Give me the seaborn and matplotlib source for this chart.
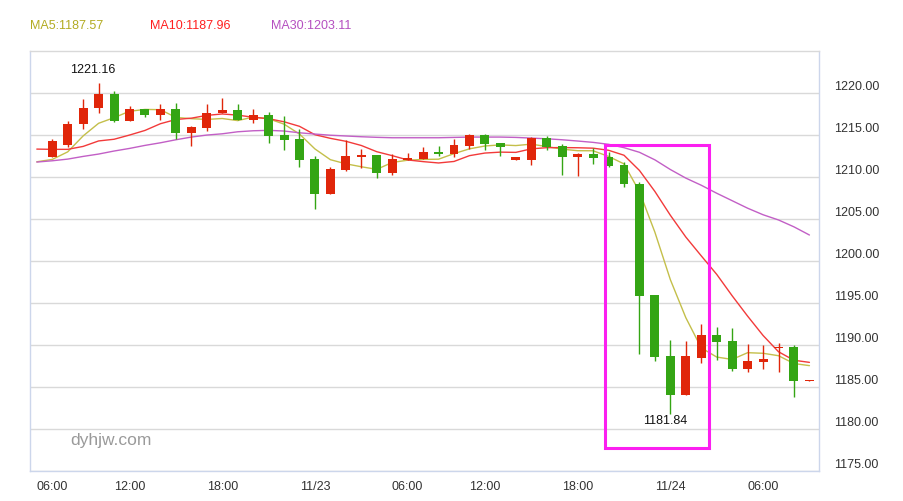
import numpy as np
import pandas as pd
import matplotlib
matplotlib.use("Agg")
import matplotlib.pyplot as plt
import seaborn as sns
from matplotlib.patches import Rectangle

# ---------------- data ----------------
opens = [1212.42, 1213.85, 1216.27, 1218.18, 1219.88, 1216.70, 1218.06, 1217.42, 1218.06, 1215.27,
         1215.87, 1217.58, 1217.98, 1216.82, 1217.38, 1215.00, 1214.52, 1212.14, 1208.01, 1210.87,
         1212.38, 1212.62, 1210.51, 1212.02, 1212.14, 1212.98, 1212.77, 1213.73, 1215.00, 1214.05,
         1212.02, 1212.06, 1214.64, 1213.69, 1212.38, 1212.74, 1212.38, 1211.43, 1209.17, 1195.95,
         1188.69, 1184.08, 1188.49, 1191.19, 1190.48, 1187.18, 1188.01, 1189.64, 1189.76, 1185.80]
highs = [1214.49, 1216.70, 1219.29, 1221.16, 1220.24, 1218.49, 1218.06, 1218.69, 1218.81, 1216.07,
         1218.69, 1219.40, 1218.69, 1218.10, 1217.70, 1217.26, 1215.71, 1212.46, 1211.15, 1214.37,
         1213.33, 1212.62, 1212.77, 1212.86, 1213.57, 1213.69, 1214.52, 1215.12, 1215.12, 1214.05,
         1212.38, 1214.76, 1214.88, 1213.93, 1212.86, 1213.45, 1212.98, 1211.75, 1209.37, 1195.95,
         1190.60, 1190.48, 1192.50, 1192.14, 1192.02, 1190.12, 1190.00, 1190.24, 1190.00, 1185.90]
lows = [1212.35, 1213.57, 1215.71, 1217.65, 1216.58, 1216.70, 1217.18, 1216.82, 1214.56, 1213.73,
        1215.51, 1217.58, 1216.82, 1216.46, 1214.08, 1213.25, 1211.23, 1206.23, 1208.01, 1210.75,
        1211.11, 1209.92, 1210.24, 1212.02, 1212.14, 1212.54, 1212.38, 1213.33, 1213.21, 1212.54,
        1212.02, 1211.43, 1213.21, 1210.24, 1210.12, 1211.55, 1211.19, 1208.85, 1189.01, 1188.13,
        1181.84, 1184.08, 1187.94, 1188.25, 1186.94, 1186.82, 1187.18, 1186.82, 1183.85, 1185.80]
closes = [1214.29, 1216.31, 1218.18, 1219.88, 1216.70, 1218.06, 1217.42, 1218.06, 1215.27, 1215.92,
          1217.62, 1217.98, 1216.82, 1217.38, 1214.92, 1214.40, 1212.06, 1208.01, 1210.95, 1212.50,
          1212.62, 1210.51, 1212.14, 1212.26, 1212.98, 1212.77, 1213.81, 1215.00, 1213.96, 1213.61,
          1212.38, 1214.64, 1213.57, 1212.38, 1212.74, 1212.30, 1211.31, 1209.13, 1195.87, 1188.61,
          1184.08, 1188.69, 1191.19, 1190.40, 1187.18, 1188.10, 1188.33, 1189.76, 1185.75, 1185.90]

# moving-average lines (one point before the first visible candle, then one per candle)
ma_positions = list(range(-1, 50))
ma5 = [1211.82, 1212.10, 1213.00, 1214.90, 1216.40, 1217.07, 1217.83, 1218.05, 1218.02, 1217.10,
       1216.95, 1216.86, 1216.97, 1216.72, 1217.14, 1216.94, 1216.30, 1215.12, 1213.35, 1212.07,
       1211.58, 1211.23, 1210.92, 1211.74, 1212.01, 1212.10, 1212.13, 1212.79, 1213.36, 1213.70,
       1213.83, 1213.75, 1213.92, 1213.63, 1213.32, 1213.14, 1213.13, 1212.46, 1211.57, 1208.27,
       1203.44, 1197.80, 1193.28, 1189.69, 1188.59, 1188.31, 1189.11, 1189.04, 1188.75, 1187.82,
       1187.57]
ma10 = [1213.33, 1213.30, 1213.30, 1213.65, 1214.30, 1214.50, 1215.00, 1215.55, 1216.35, 1216.85,
        1217.01, 1217.34, 1217.51, 1217.37, 1217.12, 1216.95, 1216.58, 1216.04, 1215.04, 1214.61,
        1214.26, 1213.76, 1213.02, 1212.55, 1212.04, 1211.84, 1211.68, 1211.86, 1212.55, 1212.86,
        1212.97, 1212.94, 1213.36, 1213.50, 1213.51, 1213.49, 1213.44, 1213.19, 1212.60, 1210.79,
        1208.29, 1205.46, 1202.87, 1200.63, 1198.43, 1195.88, 1193.46, 1191.16, 1189.22, 1188.21,
        1187.96]
ma30 = [1211.79, 1211.94, 1212.14, 1212.46, 1212.74, 1213.10, 1213.41, 1213.77, 1214.08, 1214.44,
        1214.76, 1215.00, 1215.15, 1215.39, 1215.51, 1215.56, 1215.48, 1215.27, 1215.12, 1214.98,
        1214.89, 1214.80, 1214.73, 1214.68, 1214.68, 1214.68, 1214.68, 1214.72, 1214.76, 1214.76,
        1214.76, 1214.72, 1214.64, 1214.56, 1214.44, 1214.29, 1214.13, 1213.90, 1213.50, 1212.95,
        1212.05, 1210.90, 1209.88, 1209.03, 1208.08, 1207.19, 1206.30, 1205.52, 1204.90, 1204.08,
        1203.11]

tick_positions = [0, 5, 11, 17, 23, 28, 34, 40, 46]
tick_labels = ["06:00", "12:00", "18:00", "11/23", "06:00", "12:00", "18:00", "11/24", "06:00"]
y_ticks = [1175, 1180, 1185, 1190, 1195, 1200, 1205, 1210, 1215, 1220]
legend_labels = ["MA5:1187.57", "MA10:1187.96", "MA30:1203.11"]
high_label = "1221.16"
low_label = "1181.84"
watermark = "dyhjw.com"
highlight_candles = (35.8, 42.48)
highlight_prices = (1177.82, 1213.85)

# ---------------- style ----------------
RED = "#e0260a"
GREEN = "#34a514"
MA_COLORS = {"MA5": "#c4bf4a", "MA10": "#f23a3a", "MA30": "#c25fc6"}
TEXT_COLORS = ["#b3ab22", "#ff1f1f", "#b54fc0"]
AXIS_COLOR = "#ccd6eb"
GRID_COLOR = "#d9d9d9"

sns.set_style("white")
plt.rcParams["font.family"] = ["Liberation Sans", "DejaVu Sans"]

W, H = 904, 501
fig = plt.figure(figsize=(W / 100, H / 100), dpi=100)
left_px, right_px, top_px, bottom_px = 30, 819, 51, 471.3
ax = fig.add_axes([left_px / W, 1 - bottom_px / H, (right_px - left_px) / W, (bottom_px - top_px) / H])

# moving averages via seaborn
df = pd.DataFrame({"pos": ma_positions, "MA5": ma5, "MA10": ma10, "MA30": ma30})
df_long = df.melt(id_vars="pos", var_name="ma", value_name="value")
sns.lineplot(data=df_long, x="pos", y="value", hue="ma", palette=MA_COLORS,
             linewidth=1.0, ax=ax, legend=False, zorder=2, sort=True)

# candles
idx = np.arange(len(closes))
o = np.array(opens)
c = np.array(closes)
up = c >= o
cols = [RED if u else GREEN for u in up]
ax.vlines(idx, lows, highs, colors=cols, linewidth=1.0, zorder=3)
bottoms = np.minimum(o, c)
heights = np.maximum(np.abs(c - o), 0.12)
ax.bar(idx, heights, bottom=bottoms, width=0.58, color=cols, linewidth=0, zorder=4)

# highlight box
x0, x1 = highlight_candles
y0, y1 = highlight_prices
ax.add_patch(Rectangle((x0, y0), x1 - x0, y1 - y0, fill=False, edgecolor="#fb1ff0",
                       linewidth=2.2, zorder=6, clip_on=False))

# axes
ax.set_xlim(-1.44, 49.62)
ax.set_ylim(1175, 1225)
ax.set_xlabel("")
ax.set_ylabel("")
ax.set_yticks(y_ticks)
ax.set_yticklabels([f"{v:.2f}" for v in y_ticks])
ax.yaxis.tick_right()
ax.tick_params(axis="y", length=0, pad=10.5, labelsize=9, labelcolor="#333333")
for lab in ax.get_yticklabels():
    lab.set_verticalalignment("bottom")
ax.set_xticks(tick_positions)
ax.set_xticklabels(tick_labels)
ax.tick_params(axis="x", direction="in", length=9, width=1, color=AXIS_COLOR,
               pad=7, labelsize=9, labelcolor="#333333")
ax.yaxis.grid(True, color=GRID_COLOR, linewidth=1)
ax.xaxis.grid(False)
ax.set_axisbelow(True)
for name, sp in ax.spines.items():
    sp.set_visible(True)
    sp.set_linewidth(1)
    sp.set_color(AXIS_COLOR)
ax.spines["top"].set_color(GRID_COLOR)

# annotations
ax.annotate(high_label, xy=(3, highs[3]), xytext=(-5.6, 13.2), textcoords="offset pixels",
            ha="center", va="center", fontsize=9, color="#111111")
ax.annotate(low_label, xy=(40, lows[40]), xytext=(-4.8, -7.3), textcoords="offset pixels",
            ha="center", va="center", fontsize=9, color="#111111")
ax.text(70 / W, 1 - 440 / H, watermark, transform=fig.transFigure, fontsize=12.5,
        color="#9a9a9a", ha="left", va="center")

# legend texts at top
for txt, xpx, col in zip(legend_labels, [30, 150, 271], TEXT_COLORS):
    fig.text(xpx / W, 1 - 25.7 / H, txt, fontsize=9, color=col, ha="left", va="center")

fig.savefig("out.png", dpi=100)
